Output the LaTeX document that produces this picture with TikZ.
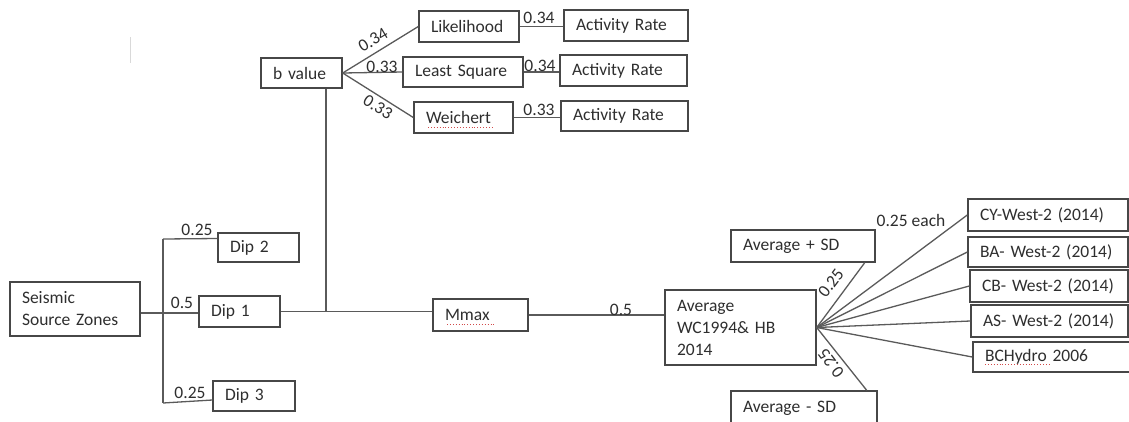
\documentclass[tikz,border=0pt]{standalone}
\usepackage{fontspec}
\setmainfont{Carlito}
\usetikzlibrary{positioning,calc}
\definecolor{ink}{HTML}{2E2E2E}
\definecolor{edge}{HTML}{474747}
\definecolor{wire}{HTML}{5A5A5A}
\definecolor{squig}{HTML}{D24A4A}
\tikzset{
  box/.style={draw=edge,line width=1.4pt,rectangle,align=left,inner xsep=12pt,inner ysep=0pt,text=ink},
  wire/.style={draw=wire,line width=1.3pt},
  wt/.style={text=ink,inner sep=0pt},
  squiggle/.style={draw=squig,line width=0.9pt,dotted}
}
\begin{document}
\begin{tikzpicture}[x=1pt,y=1pt,font=\fontsize{17.5}{22}\selectfont]
\useasboundingbox (0,0) rectangle (1129,-421);
\draw[gray!30,line width=1pt] (130,-37)--(130,-63);
\foreach \n/\x/\y/\w/\h/\lab in {seis/75/309/106/54/Seismic\\Source Zones,
  dip2/258.5/247.5/57/29/Dip 2,dip1/239.5/311.5/57/31/Dip 1,dip3/254/396/58/30/Dip 3,
  bval/301.5/73/57/30/b value,lik/469/26.5/76/31/Likelihood,lsq/463/72/96/30/Least Square,
  wei/463.5/117.5/75/31/Weichert,ar1/626/25.5/100/31/Activity Rate,ar2/623.5/70.5/103/31/Activity Rate,
  ar3/624.5/116/103/30/Activity Rate,mmax/480.5/315/71/32/Mmax,
  avg/740.5/327.5/127/75/Average\\WC1994\& HB\\2014,avgp/803/246/120/32/Average + SD,
  avgm/804/408/122/34/Average - SD,cy/1048/215/136/32/CY-West-2 (2014),
  ba/1048/252/136/30/BA- West-2 (2014),cb/1049/286/134/32/CB- West-2 (2014),
  as/1049.5/321/133/32/AS- West-2 (2014),bch/1054/357/138/30/BCHydro 2006}{
  \node[box,text width=\w pt,minimum height=\h pt] (\n) at (\x,-\y) {\lab};
}
\coordinate (j1t) at (163,-239);
\coordinate (j1) at (163,-313);
\coordinate (j1b) at (163,-403);
\coordinate (j2) at (326,-311.5);
\draw[wire] (j1 -| seis.east) -- (j1) -- (j1 -| dip1.west);
\draw[wire] (j1t) -- (j1b);
\draw[wire] (j1t) -- ([yshift=9pt]dip2.west);
\draw[wire] (j1b) -- ([yshift=-4pt]dip3.west);
\draw[wire] (dip1.east) -- (dip1.east -| mmax.west);
\draw[wire] (j2) -- (j2 |- bval.south);
\foreach \t in {lik,lsq,wei}
  \draw[wire] (bval.east) -- (\t.west);
\foreach \a/\b in {lik/ar1,lsq/ar2,wei/ar3}
  \draw[wire] (\a.east) -- (\a.east -| \b.west);
\draw[wire] (mmax.east) -- (mmax.east -| avg.west);
\foreach \t in {cy,ba,cb,as,bch}
  \draw[wire] (avg.east) -- (\t.west);
\draw[wire] (avg.east) -- ([xshift=-11pt]avgp.south east);
\draw[wire] (avg.east) -- ([xshift=-11pt]avgm.north east);
\node[wt] (w2) at (197,-230) {0.25};
\node[wt] (w1) at (182,-303) {0.5};
\node[wt] (w3) at (190,-393) {0.25};
\node[wt,rotate=31] (wlik) at (373,-40) {0.34};
\node[wt] (wlsq) at (382,-67) {0.33};
\node[wt,rotate=-32] (wwei) at (378,-107) {0.33};
\node[wt] (war1) at (539,-18) {0.34};
\node[wt] (war2) at (540,-66) {0.34};
\node[wt] (war3) at (539,-110) {0.33};
\node[wt] (wmax) at (621,-310) {0.5};
\node[wt] (weach) at (911,-220) {0.25 each};
\node[wt,rotate=53] (wp) at (831,-283) {0.25};
\node[wt,rotate=127] (wm) at (831,-363) {0.25};
\draw[squiggle] (447,-324) -- (494,-324);
\draw[squiggle] (428,-127) -- (493,-127);
\draw[squiggle] (985,-364) -- (1050,-364);
\end{tikzpicture}
\end{document}
